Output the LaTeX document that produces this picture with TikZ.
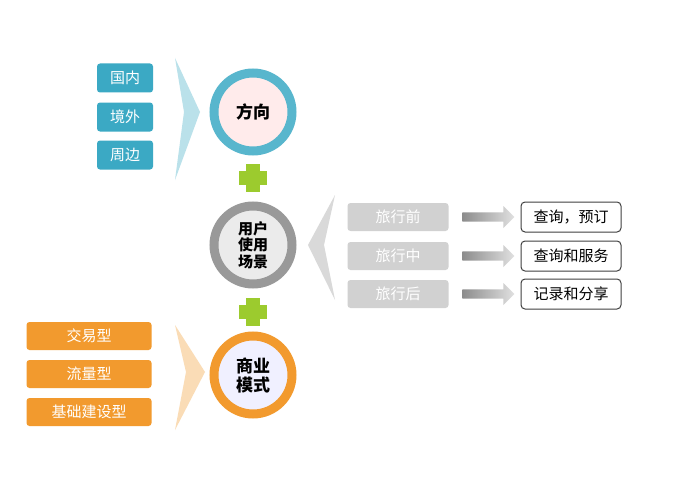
\documentclass[tikz,border=0pt]{standalone}
\usepackage{fontspec}
\newfontfamily\cjk{Noto Sans CJK SC}
\usetikzlibrary{shapes.arrows}
\definecolor{teal1}{HTML}{3BA9C4}
\definecolor{org}{HTML}{F29A2E}
\definecolor{plusg}{HTML}{9CCB2E}
\begin{document}
\begin{tikzpicture}[x=1pt,y=-1pt,font=\cjk,
 tbox/.style={rounded corners=3pt,fill=teal1,text=white,minimum width=56pt,minimum height=29pt,font=\cjk\fontsize{15}{15}\selectfont},
 obox/.style={rounded corners=3pt,fill=org,text=white,minimum width=125pt,minimum height=28pt,font=\cjk\fontsize{15}{15}\selectfont},
 gbox/.style={rounded corners=3pt,fill=black!18,text=white,minimum width=101pt,minimum height=28pt,font=\cjk\fontsize{15}{15}\selectfont},
 wbox/.style={rounded corners=4pt,draw=black!75,line width=1pt,fill=white,minimum width=100pt,minimum height=30pt,font=\cjk\fontsize{15}{15}\selectfont},
 circ/.style={circle,minimum size=78pt,line width=9pt,inner sep=0pt,font=\cjk\bfseries\fontsize{17}{19}\selectfont,align=center},
 garr/.style={single arrow,minimum height=52pt,minimum width=22pt,single arrow head extend=3pt,inner sep=2pt,left color=black!45,right color=black!12,shading angle=90}]
\useasboundingbox (0,0) rectangle (684,476);
\fill[white] (0,0) rectangle (684,476);
% chevrons
\fill[teal1!35] (175,58) -- (200,112) -- (175,180) -- (184,112) -- cycle;
\fill[org!35] (175,325) -- (205,372) -- (175,430) -- (186,372) -- cycle;
\fill[black!15] (335,195) -- (308,245) -- (335,300) -- (324,245) -- cycle;
% left boxes
\node[tbox] (n1) at (125,78) {国内};
\node[tbox] (n2) at (125,117) {境外};
\node[tbox] (n3) at (125,155) {周边};
\node[obox] (o1) at (89,336) {交易型};
\node[obox] (o2) at (89,374) {流量型};
\node[obox] (o3) at (89,412) {基础建设型};
% circles
\node[circ,draw=teal1!85,fill=red!8!white] (c1) at (253,112) {方向};
\node[circ,draw=black!40,fill=green!4!black!8!white,font=\cjk\bfseries\fontsize{15}{16.5}\selectfont] (c2) at (253,245) {用户\\使用\\场景};
\node[circ,draw=org,fill=blue!6!white] (c3) at (253,375) {商业\\模式};
% plus signs
\foreach \y/\nm in {178/p1,312/p2}{
 \fill[plusg] (246,\y-14) rectangle (260,\y+14);
 \fill[plusg] (239,\y-7) rectangle (267,\y+7);
 \coordinate (\nm) at (253,\y);
}
% right
\foreach \y/\a/\b/\k in {217/旅行前/{查询，预订}/1,256/旅行中/查询和服务/2,294/旅行后/记录和分享/3}{
 \node[gbox] (g\k) at (398,\y) {\a};
 \node[garr] (a\k) at (486,\y) {};
 \node[wbox] (w\k) at (571,\y) {\b};
}
\end{tikzpicture}
\end{document}
